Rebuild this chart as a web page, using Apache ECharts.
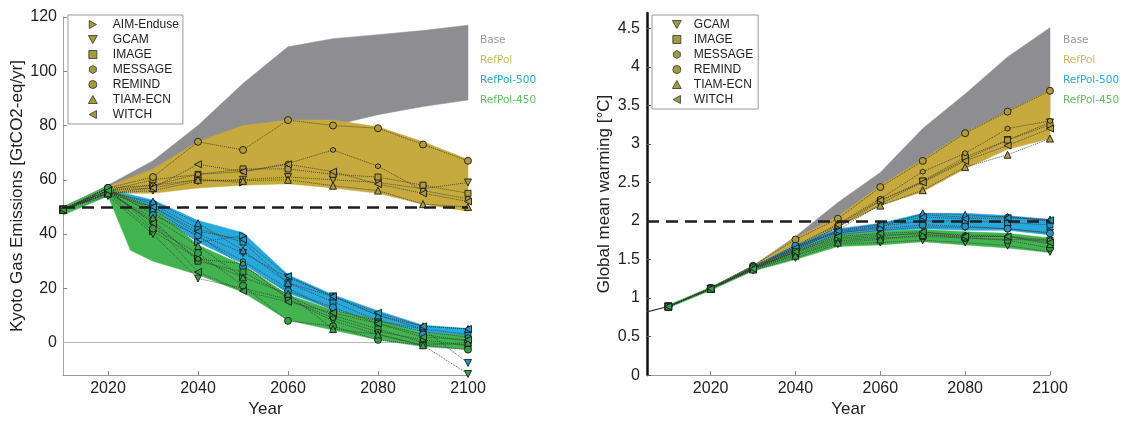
<!DOCTYPE html>
<html><head><meta charset="utf-8">
<script src="https://cdn.jsdelivr.net/npm/echarts@6/dist/echarts.min.js"></script>
<style>html,body{margin:0;padding:0;background:#fff}#c{width:1130px;height:423px}</style>
</head><body><div id="c"></div>
<script>
// ---------- axes / ticks ----------
const xTicks = [2020, 2040, 2060, 2080, 2100];
const yTicksL = [0, 20, 40, 60, 80, 100, 120];
const yTicksR = [0, 0.5, 1, 1.5, 2, 2.5, 3, 3.5, 4, 4.5];
const targetL = 50;   // dashed line, left
const targetR = 2;    // dashed line, right

// ---------- LEFT: Kyoto gas emissions ----------
const yearsL = [2010, 2020, 2030, 2040, 2050, 2060, 2070, 2080, 2090, 2100];
const baseHiL = [50, 58, 67, 80, 95.5, 109, 112, 113.5, 115, 117];
const baseLoL = [48.5, 56, 58, 62, 68, 74, 80, 84, 87, 89.4];
const refHiL  = [50, 57.5, 64, 74, 80, 82, 82, 79.5, 74, 67.5];
const refLoL  = [48.5, 55, 55, 57, 58, 58.5, 57, 55, 51, 48.4];
const p500HiL = [50, 56.5, 52.5, 45, 40.5, 25, 17.6, 11.7, 6.4, 5.2];
const p500LoL = [48.5, 55, 48.5, 37, 29, 18.2, 12.2, 8, 3.8, 1.2];
const years450L = [2010, 2020, 2025, 2030, 2040, 2050, 2060, 2070, 2080, 2090, 2100];
const p450HiL = [50, 57.7, 53, 50, 36, 28.5, 17.6, 12, 8.5, 3.5, 2.7];
const p450LoL = [47, 54, 34, 30, 25, 18.5, 8.2, 4.6, 1, -1.5, -2.6];

// model values, RefPol
const refL_AIM     = [49, 56, 58, 60, 59, null, null, null, null, null];
const refL_GCAM    = [49, 55, 56, 59.5, 60, 61, 60, 59, 56.7, 59];
const refL_IMAGE   = [49, 56, 60, 62, 64, 64, 62, 61, 58, 55];
const refL_MESSAGE = [49, 57, 58, 62, 63, 66, 71, 65, 56, 53];
const refL_REMIND  = [49, 57, 61, 74, 71, 82, 80, 79, 73, 67];
const refL_TIAM    = [49, 55, 57, 60, 59.6, 60, 57.8, 56, 51, 50];
const refL_WITCH   = [49, 56, 57, 65.7, 63, 65.7, 63, 58.4, 55, 52];
// RefPol-500
const p500L_AIM     = [49, 56, 48, 37, 39.4, null, null, null, null, null];
const p500L_GCAM    = [49, 55, 50, 40, 33, 24, 17, 10, 5, -7.5];
const p500L_IMAGE   = [49, 56, 51, 42, 37, 22, 15, 8, 5, 3];
const p500L_MESSAGE = [49, 56, 49, 39, 30, 20, 12, 8, 4, 2];
const p500L_REMIND  = [49, 57, 47, 39.5, 28, 19, 13, 7, 3, 0.5];
const p500L_TIAM    = [49, 55, 52, 44, 34, 22, 17, 10, 6, 5];
const p500L_WITCH   = [49, 56, 50, 41, 38, 24.5, 17, 11, 6, 5];
// RefPol-450
const p450L_AIM     = [49, 55, 41, 31, 24, null, null, null, null, null];
const p450L_GCAM    = [49, 54, 40, 23.6, 20, 16, 8, 3, -1, -11.6];
const p450L_IMAGE   = [49, 55, 45, 30, 26, 17, 10, 5, 0, -1];
const p450L_MESSAGE = [49, 56, 44, 30.8, 29, 16, 9, 4, 1, -1];
const p450L_REMIND  = [49, 57, 42, 33, 21, 8, 6, 1, -1, -2.6];
const p450L_TIAM    = [49, 55, 46, 35.6, 24, 18, 5, 3, -1, 0];
const p450L_WITCH   = [49, 56, 44, 26, 19, 15, 11, 7, 2, 1];

// ---------- RIGHT: global mean warming ----------
const histYears = [2005, 2010];
const histVals  = [0.82, 0.89];
const yearsR = [2010, 2020, 2030, 2040, 2050, 2060, 2070, 2080, 2090, 2100];
const baseHiR = [0.89, 1.13, 1.42, 1.8, 2.24, 2.63, 3.2, 3.65, 4.13, 4.51];
const baseLoR = [0.88, 1.11, 1.37, 1.65, 1.95, 2.25, 2.5, 2.8, 3.1, 3.4];
const refHiR  = [0.89, 1.13, 1.42, 1.78, 2.06, 2.46, 2.8, 3.15, 3.42, 3.7];
const refLoR  = [0.88, 1.11, 1.37, 1.62, 1.92, 2.2, 2.38, 2.68, 2.93, 3.07];
const p500HiR = [0.89, 1.13, 1.41, 1.69, 1.9, 1.97, 2.1, 2.1, 2.07, 2.02];
const p500LoR = [0.88, 1.11, 1.37, 1.61, 1.82, 1.86, 1.9, 1.88, 1.88, 1.82];
const p450HiR = [0.91, 1.14, 1.42, 1.62, 1.82, 1.86, 1.89, 1.86, 1.84, 1.78];
const p450LoR = [0.87, 1.10, 1.35, 1.5, 1.67, 1.69, 1.73, 1.69, 1.65, 1.59];

const refR_GCAM    = [0.89, 1.12, 1.37, 1.62, 1.88, 2.22, 2.51, 2.8, 3.05, 3.28];
const refR_IMAGE   = [0.89, 1.12, 1.39, 1.65, 1.92, 2.26, 2.52, 2.83, 3.05, 3.25];
const refR_MESSAGE = [0.89, 1.13, 1.40, 1.68, 1.96, 2.29, 2.64, 2.88, 3.2, 3.3];
const refR_REMIND  = [0.89, 1.13, 1.42, 1.76, 2.03, 2.44, 2.78, 3.14, 3.42, 3.69];
const refR_TIAM    = [0.89, 1.12, 1.38, 1.63, 1.93, 2.2, 2.4, 2.7, 2.86, 3.07];
const refR_WITCH   = [0.89, 1.12, 1.39, 1.66, 1.95, 2.27, 2.5, 2.78, 2.98, 3.2];

const p500R_GCAM    = [0.89, 1.12, 1.38, 1.62, 1.82, 1.88, 1.92, 1.92, 1.9, 1.85];
const p500R_IMAGE   = [0.89, 1.12, 1.39, 1.64, 1.86, 1.93, 2.0, 2.0, 1.98, 1.95];
const p500R_MESSAGE = [0.89, 1.12, 1.40, 1.66, 1.88, 1.96, 2.08, 2.05, 2.06, 2.0];
const p500R_REMIND  = [0.89, 1.13, 1.41, 1.68, 1.85, 1.9, 1.95, 1.93, 1.9, 1.84];
const p500R_TIAM    = [0.89, 1.12, 1.38, 1.6, 1.84, 1.92, 2.1, 2.08, 2.05, 2.02];
const p500R_WITCH   = [0.89, 1.12, 1.39, 1.65, 1.87, 1.95, 2.05, 2.03, 2.04, 2.01];

const p450R_GCAM    = [0.89, 1.12, 1.36, 1.52, 1.7, 1.72, 1.75, 1.72, 1.68, 1.6];
const p450R_IMAGE   = [0.89, 1.12, 1.38, 1.56, 1.74, 1.78, 1.8, 1.78, 1.76, 1.75];
const p450R_MESSAGE = [0.89, 1.12, 1.38, 1.58, 1.76, 1.8, 1.85, 1.82, 1.8, 1.75];
const p450R_REMIND  = [0.89, 1.12, 1.39, 1.6, 1.78, 1.82, 1.83, 1.78, 1.75, 1.65];
const p450R_TIAM    = [0.89, 1.12, 1.37, 1.55, 1.72, 1.76, 1.82, 1.8, 1.8, 1.7];
const p450R_WITCH   = [0.89, 1.12, 1.38, 1.6, 1.8, 1.84, 1.86, 1.8, 1.8, 1.72];

const scenarioNames = ['Base', 'RefPol', 'RefPol-500', 'RefPol-450'];
const modelsL = ['AIM-Enduse', 'GCAM', 'IMAGE', 'MESSAGE', 'REMIND', 'TIAM-ECN', 'WITCH'];
const modelsR = ['GCAM', 'IMAGE', 'MESSAGE', 'REMIND', 'TIAM-ECN', 'WITCH'];

// ---------- styles ----------
const FONT = '"Liberation Sans", Arial, sans-serif';
const bandColor = { base: '#8e8e92', ref: '#c6aa3d', p500: '#27a9de', p450: '#42b44f' };
const markColor = { ref: '#b09a3a', p500: '#1f95c6', p450: '#33a043' };
const labelColor = ['#9a9a9a', '#d3b862', '#2aa8df', '#5fc05c'];
const symbols = {
  'AIM-Enduse': 'path://M0,0L9,5L0,10Z',
  'GCAM': 'path://M0,0L10,0L5,9Z',
  'IMAGE': 'path://M0,0L10,0L10,10L0,10Z',
  'MESSAGE': 'path://M5,0L9.33,2.5L9.33,7.5L5,10L0.67,7.5L0.67,2.5Z',
  'REMIND': 'circle',
  'TIAM-ECN': 'path://M5,0L10,9L0,9Z',
  'WITCH': 'path://M9,0L0,5L9,10Z'
};
const symSize = { 'AIM-Enduse': 7, 'GCAM': 7, 'IMAGE': 6, 'MESSAGE': 5, 'REMIND': 7, 'TIAM-ECN': 7, 'WITCH': 7 };

function band(idx, years, lo, hi, color, z) {
  return {
    type: 'custom', xAxisIndex: idx, yAxisIndex: idx, z: z, silent: true,
    data: years.map((y, i) => [y, lo[i], hi[i]]),
    encode: { x: 0, y: [1, 2] },
    renderItem: function (params, api) {
      if (params.dataIndex !== 0) return null;
      const pts = [];
      for (let i = 0; i < years.length; i++) pts.push(api.coord([years[i], hi[i]]));
      for (let i = years.length - 1; i >= 0; i--) pts.push(api.coord([years[i], lo[i]]));
      return { type: 'polygon', shape: { points: pts }, style: { fill: color, stroke: color, lineWidth: 0.5 } };
    }
  };
}

function model(idx, name, years, vals, fill) {
  return {
    type: 'line', name: name, xAxisIndex: idx, yAxisIndex: idx, z: 3,
    data: years.map((y, i) => vals[i] == null ? null : [y, vals[i]]).filter(d => d),
    symbol: symbols[name], symbolSize: symSize[name], showAllSymbol: true, clip: false,
    itemStyle: { color: fill, borderColor: '#1b1b1b', borderWidth: 0.9 },
    lineStyle: { color: '#3a3a3a', width: 1, type: 'dotted', opacity: 0.85 },
    emphasis: { disabled: true }, silent: true
  };
}

const series = [];
// left reference zero line (below bands)
series.push({ type: 'line', xAxisIndex: 0, yAxisIndex: 0, z: 0, silent: true, symbol: 'none',
  data: [[yearsL[0], 0], [yearsL[yearsL.length - 1], 0]], lineStyle: { color: '#b5b5b5', width: 1 } });
series.push(band(0, yearsL, baseLoL, baseHiL, bandColor.base, 1));
series.push(band(0, yearsL, refLoL, refHiL, bandColor.ref, 1));
series.push(band(0, yearsL, p500LoL, p500HiL, bandColor.p500, 1));
series.push(band(0, years450L, p450LoL, p450HiL, bandColor.p450, 1));

const left = {
  ref:  [refL_AIM, refL_GCAM, refL_IMAGE, refL_MESSAGE, refL_REMIND, refL_TIAM, refL_WITCH],
  p500: [p500L_AIM, p500L_GCAM, p500L_IMAGE, p500L_MESSAGE, p500L_REMIND, p500L_TIAM, p500L_WITCH],
  p450: [p450L_AIM, p450L_GCAM, p450L_IMAGE, p450L_MESSAGE, p450L_REMIND, p450L_TIAM, p450L_WITCH]
};
['ref', 'p500', 'p450'].forEach(s => modelsL.forEach((m, i) => series.push(model(0, m, yearsL, left[s][i], markColor[s]))));

series.push({ type: 'line', xAxisIndex: 1, yAxisIndex: 1, z: 2, silent: true, symbol: 'none',
  data: histYears.map((y, i) => [y, histVals[i]]), lineStyle: { color: '#333', width: 1.2 } });
series.push(band(1, yearsR, baseLoR, baseHiR, bandColor.base, 1));
series.push(band(1, yearsR, refLoR, refHiR, bandColor.ref, 1));
series.push(band(1, yearsR, p500LoR, p500HiR, bandColor.p500, 1));
series.push(band(1, yearsR, p450LoR, p450HiR, bandColor.p450, 1));
const right = {
  ref:  [refR_GCAM, refR_IMAGE, refR_MESSAGE, refR_REMIND, refR_TIAM, refR_WITCH],
  p500: [p500R_GCAM, p500R_IMAGE, p500R_MESSAGE, p500R_REMIND, p500R_TIAM, p500R_WITCH],
  p450: [p450R_GCAM, p450R_IMAGE, p450R_MESSAGE, p450R_REMIND, p450R_TIAM, p450R_WITCH]
};
['ref', 'p500', 'p450'].forEach(s => modelsR.forEach((m, i) => series.push(model(1, m, yearsR, right[s][i], markColor[s]))));

// dashed target lines
function target(idx, v) {
  return { type: 'line', xAxisIndex: idx, yAxisIndex: idx, z: 6, silent: true, data: [],
    markLine: { silent: true, symbol: 'none', label: { show: false }, animation: false,
      lineStyle: { color: '#1e1e1e', width: 2.6, type: [12, 7] }, data: [{ yAxis: v }] } };
}
series.push(target(0, targetL));
series.push(target(1, targetR));

function legendData(list) {
  return list.map(m => ({ name: m, icon: symbols[m],
    itemStyle: { color: '#a39a3c', borderColor: '#333', borderWidth: 0.8 } }));
}
const legendCommon = {
  orient: 'vertical', selectedMode: false, itemHeight: 8, itemGap: 2,
  borderColor: '#9a9a9a', borderWidth: 1, backgroundColor: '#fff',
  textStyle: { fontFamily: FONT, fontSize: 12, color: '#222', lineHeight: 13 }
};

function xAxis(idx, min, max, nameGap) {
  return { gridIndex: idx, type: 'value', min: min, max: max,
    axisLine: { show: true, onZero: false, lineStyle: { color: '#9a9a9a', width: 1 } },
    axisTick: { show: true, inside: true, length: 4, customValues: xTicks, lineStyle: { color: '#888' } },
    axisLabel: { customValues: xTicks, fontSize: 16, color: '#222', margin: 5, fontFamily: FONT,
      formatter: v => String(v) },
    splitLine: { show: false },
    name: 'Year', nameLocation: 'middle', nameGap: nameGap,
    nameTextStyle: { fontSize: 17, color: '#222', fontFamily: FONT } };
}

const scenLabels = [];
[480, 1063].forEach(x => scenarioNames.forEach((t, i) => scenLabels.push({
  type: 'text', left: x, top: 35 + i * 19.8,
  style: { text: t, fill: labelColor[i], fontSize: 10.5, fontFamily: '"DejaVu Sans", sans-serif' } })));

const option = {
  animation: false,
  backgroundColor: '#fff',
  grid: [
    { left: 63, top: 17, width: 405, height: 367 },
    { left: 647, top: 13, width: 403, height: 368 }
  ],
  xAxis: [xAxis(0, 2010, 2100, 18), xAxis(1, 2005, 2100, 20)],
  yAxis: [
    { gridIndex: 0, type: 'value', min: -12, max: 120,
      axisLine: { show: true, lineStyle: { color: '#a5a5a5', width: 1 } },
      axisTick: { show: true, inside: true, length: 4, customValues: yTicksL, lineStyle: { color: '#888' } },
      axisLabel: { customValues: yTicksL, fontSize: 16, color: '#222', margin: 6, fontFamily: FONT },
      splitLine: { show: false },
      name: 'Kyoto Gas Emissions [GtCO2-eq/yr]', nameLocation: 'middle', nameGap: 37,
      nameTextStyle: { fontSize: 17, color: '#222', fontFamily: FONT } },
    { gridIndex: 1, type: 'value', min: 0, max: 4.7,
      axisLine: { show: true, lineStyle: { color: '#111', width: 2.5 } },
      axisTick: { show: true, inside: true, length: 4, customValues: yTicksR, lineStyle: { color: '#555' } },
      axisLabel: { customValues: yTicksR, fontSize: 16, color: '#222', margin: 7, fontFamily: FONT },
      splitLine: { show: false },
      name: 'Global mean warming [°C]', nameLocation: 'middle', nameGap: 34,
      nameTextStyle: { fontSize: 17, color: '#222', fontFamily: FONT } }
  ],
  legend: [
    Object.assign({}, legendCommon, { left: 68, top: 15, padding: [3, 4, 3, 20], itemWidth: 30, data: legendData(modelsL) }),
    Object.assign({}, legendCommon, { left: 652, top: 15, padding: [3, 5, 3, 20], itemWidth: 24, data: legendData(modelsR) })
  ],
  graphic: scenLabels,
  series: series
};
const chart = echarts.init(document.getElementById('c'), null, { renderer: 'canvas' });
chart.setOption(option);
</script></body></html>
